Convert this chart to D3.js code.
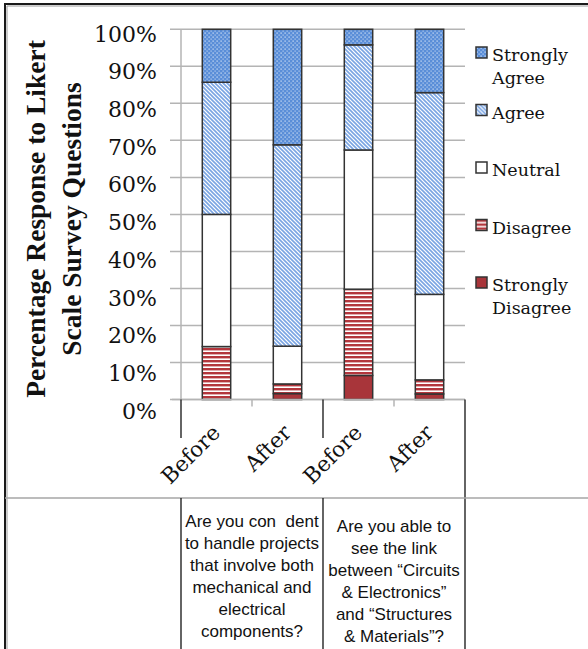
<!DOCTYPE html>
<html>
<head>
<meta charset="utf-8">
<script src="https://cdn.jsdelivr.net/npm/d3@7"></script>
<style>
  body { margin: 0; background: #fff; }
  svg { display: block; }
</style>
</head>
<body>
<svg id="chart" width="588" height="649"></svg>
<script>
// Likert survey responses, before/after, for two questions (percent of respondents)
const categories = ["Before", "After", "Before", "After"];
const questions = [
  ["Are you con\u00A0\u00A0dent", "to handle projects", "that involve both", "mechanical and", "electrical", "components?"],
  ["Are you able to", "see the link", "between \u201CCircuits", "& Electronics\u201D", "and \u201CStructures", "& Materials\u201D?"]
];
const seriesNames = ["Strongly Disagree", "Disagree", "Neutral", "Agree", "Strongly Agree"];
const stronglyDisagree = [0, 1.6, 6.5, 1.5];
const disagree = [14.3, 2.6, 23.3, 3.8];
const neutral = [35.7, 10.2, 37.6, 23.1];
const agree = [35.7, 54.4, 28.4, 54.5];
const stronglyAgree = [14.3, 31.2, 4.2, 17.1];
const yTickValues = [0, 10, 20, 30, 40, 50, 60, 70, 80, 90, 100];
const legendOrder = ["Strongly Agree", "Agree", "Neutral", "Disagree", "Strongly Disagree"];

const rows = categories.map((c, i) => ({
  idx: i,
  "Strongly Disagree": stronglyDisagree[i],
  "Disagree": disagree[i],
  "Neutral": neutral[i],
  "Agree": agree[i],
  "Strongly Agree": stronglyAgree[i]
}));

const svg = d3.select("#chart");
const serif = "'DejaVu Serif', serif";

// ---- fill patterns ----
const defs = svg.append("defs");
const pDots = defs.append("pattern").attr("id", "pat-sa").attr("patternUnits", "userSpaceOnUse")
  .attr("width", 4).attr("height", 4);
pDots.append("rect").attr("width", 4).attr("height", 4).attr("fill", "#5a8ed8");
pDots.append("rect").attr("x", 0.5).attr("y", 0.5).attr("width", 1.2).attr("height", 1.2).attr("fill", "#dfe9f8");
pDots.append("rect").attr("x", 2.5).attr("y", 2.5).attr("width", 1.2).attr("height", 1.2).attr("fill", "#b9cff0");

const pDiag = defs.append("pattern").attr("id", "pat-a").attr("patternUnits", "userSpaceOnUse")
  .attr("width", 4).attr("height", 4);
pDiag.append("rect").attr("width", 4).attr("height", 4).attr("fill", "#fff");
pDiag.append("path").attr("d", "M-1,3 l2,2 M0,0 l4,4 M3,-1 l2,2")
  .attr("stroke", "#7aa5e3").attr("stroke-width", 1.6);

const pHoriz = defs.append("pattern").attr("id", "pat-d").attr("patternUnits", "userSpaceOnUse")
  .attr("width", 4).attr("height", 4);
pHoriz.append("rect").attr("width", 4).attr("height", 4).attr("fill", "#fff");
pHoriz.append("rect").attr("width", 4).attr("height", 2.4).attr("fill", "#b3363c");

const fills = {
  "Strongly Agree": "url(#pat-sa)",
  "Agree": "url(#pat-a)",
  "Neutral": "#ffffff",
  "Disagree": "url(#pat-d)",
  "Strongly Disagree": "#a8353a"
};

// ---- scales ----
const x = d3.scaleBand().domain(d3.range(categories.length))
  .range([181, 465]).paddingInner(0.6).paddingOuter(0.3);
const y = d3.scaleLinear().domain([0, 100]).range([399.5, 29.3]);
// tick labels run on a slightly wider spacing than the grid
const labelY = d3.scaleLinear().domain([0, 100]).range([410, 33.3]);
const edge = i => x.range()[0] + i * x.step();

// ---- outer frame ----
svg.append("path").attr("d", "M7,649 V6 H588").attr("fill", "none")
  .attr("stroke", "#9a9a9a").attr("stroke-width", 1);
svg.append("path").attr("d", "M5,649 V4 H588").attr("fill", "none")
  .attr("stroke", "#1a1a1a").attr("stroke-width", 2);

// ---- gridlines ----
svg.append("g").selectAll("line").data(yTickValues).join("line")
  .attr("x1", 170).attr("x2", x.range()[1])
  .attr("y1", d => y(d)).attr("y2", d => y(d))
  .attr("stroke", "#b4b4b4").attr("stroke-width", 1.5);

// ---- stacked bars ----
const stack = d3.stack().keys(seriesNames)(rows);
const layers = svg.append("g").selectAll("g").data(stack).join("g")
  .attr("fill", d => fills[d.key]);
layers.selectAll("rect").data(d => d.filter(s => s[1] - s[0] > 0)).join("rect")
  .attr("x", d => x(d.data.idx))
  .attr("width", x.bandwidth())
  .attr("y", d => y(d[1]))
  .attr("height", d => y(d[0]) - y(d[1]))
  .attr("stroke", "#333").attr("stroke-width", 1.5);

// ---- y axis ----
svg.append("line").attr("x1", x.range()[0]).attr("x2", x.range()[0])
  .attr("y1", y(100)).attr("y2", y(0)).attr("stroke", "#b4b4b4").attr("stroke-width", 1.5);
const yAxis = svg.append("g").attr("transform", `translate(${x.range()[0]},0)`)
  .call(d3.axisLeft(y).tickValues(yTickValues).tickSize(0).tickPadding(24)
    .tickFormat(d => d + "%"));
yAxis.select(".domain").remove();
yAxis.selectAll("text")
  .attr("dy", null)
  .attr("y", d => labelY(d) - y(d) + 8)
  .style("font-family", serif).style("font-size", "22px").attr("fill", "#111");

// ---- x axis ----
svg.append("line").attr("x1", 172).attr("x2", x.range()[1])
  .attr("y1", y(0)).attr("y2", y(0)).attr("stroke", "#b4b4b4").attr("stroke-width", 1.5);
svg.append("g").selectAll("line").data([1, 3]).join("line")
  .attr("x1", d => edge(d)).attr("x2", d => edge(d))
  .attr("y1", y(0)).attr("y2", y(0) + 7)
  .attr("stroke", "#b4b4b4").attr("stroke-width", 1.5);
svg.append("g").selectAll("line").data([0, 2]).join("line")
  .attr("x1", d => edge(d)).attr("x2", d => edge(d))
  .attr("y1", y(0)).attr("y2", 438)
  .attr("stroke", "#111").attr("stroke-width", 1.3);
svg.append("line").attr("x1", edge(4)).attr("x2", edge(4))
  .attr("y1", y(0)).attr("y2", 649).attr("stroke", "#111").attr("stroke-width", 1.3);

svg.append("g").selectAll("text").data(categories).join("text")
  .attr("transform", (d, i) => `translate(${x(i) + x.bandwidth() / 2 + 5},434) rotate(-45)`)
  .attr("text-anchor", "end")
  .style("font-family", serif).style("font-size", "21.5px").attr("fill", "#111")
  .text(d => d);

// ---- question table ----
svg.append("line").attr("x1", 5).attr("x2", 588).attr("y1", 498).attr("y2", 498)
  .attr("stroke", "#a6a6a6").attr("stroke-width", 1.5);
svg.append("g").selectAll("line").data([0, 2]).join("line")
  .attr("x1", d => edge(d)).attr("x2", d => edge(d))
  .attr("y1", 498).attr("y2", 649)
  .attr("stroke", "#111").attr("stroke-width", 1.3);

const qStart = [527, 532];
questions.forEach((lines, g) => {
  const cx = (edge(2 * g) + edge(2 * g + 2)) / 2;
  svg.append("text")
    .attr("text-anchor", "middle")
    .style("font-family", "'Liberation Sans', Arial, sans-serif")
    .style("font-size", "17px").attr("fill", "#111")
    .selectAll("tspan").data(lines).join("tspan")
    .attr("x", cx).attr("y", (d, i) => qStart[g] + i * 21.9)
    .text(d => d);
});

// ---- y title ----
const titleLines = ["Percentage Response to Likert", "Scale Survey Questions"];
svg.append("g").selectAll("text").data(titleLines).join("text")
  .attr("transform", (d, i) => `translate(${44.5 + i * 36},219) rotate(-90)`)
  .attr("text-anchor", "middle")
  .style("font-family", "'Liberation Serif', 'Times New Roman', serif")
  .style("font-weight", "bold").style("font-size", "27.5px").attr("fill", "#111")
  .text(d => d);

// ---- legend ----
const legendLabels = {
  "Strongly Agree": ["Strongly", "Agree"],
  "Agree": ["Agree"],
  "Neutral": ["Neutral"],
  "Disagree": ["Disagree"],
  "Strongly Disagree": ["Strongly", "Disagree"]
};
const legend = svg.append("g").selectAll("g").data(legendOrder).join("g")
  .attr("transform", (d, i) => `translate(476,${47 + i * 57.5})`);
legend.append("rect").attr("width", 11).attr("height", 11)
  .attr("fill", d => fills[d]).attr("stroke", "#333").attr("stroke-width", 1.5);
legend.append("text")
  .style("font-family", serif).style("font-size", "17.5px").attr("fill", "#111")
  .selectAll("tspan").data(d => legendLabels[d]).join("tspan")
  .attr("x", 16).attr("y", (d, i) => 14 + i * 22.5)
  .text(d => d);
</script>
</body>
</html>
